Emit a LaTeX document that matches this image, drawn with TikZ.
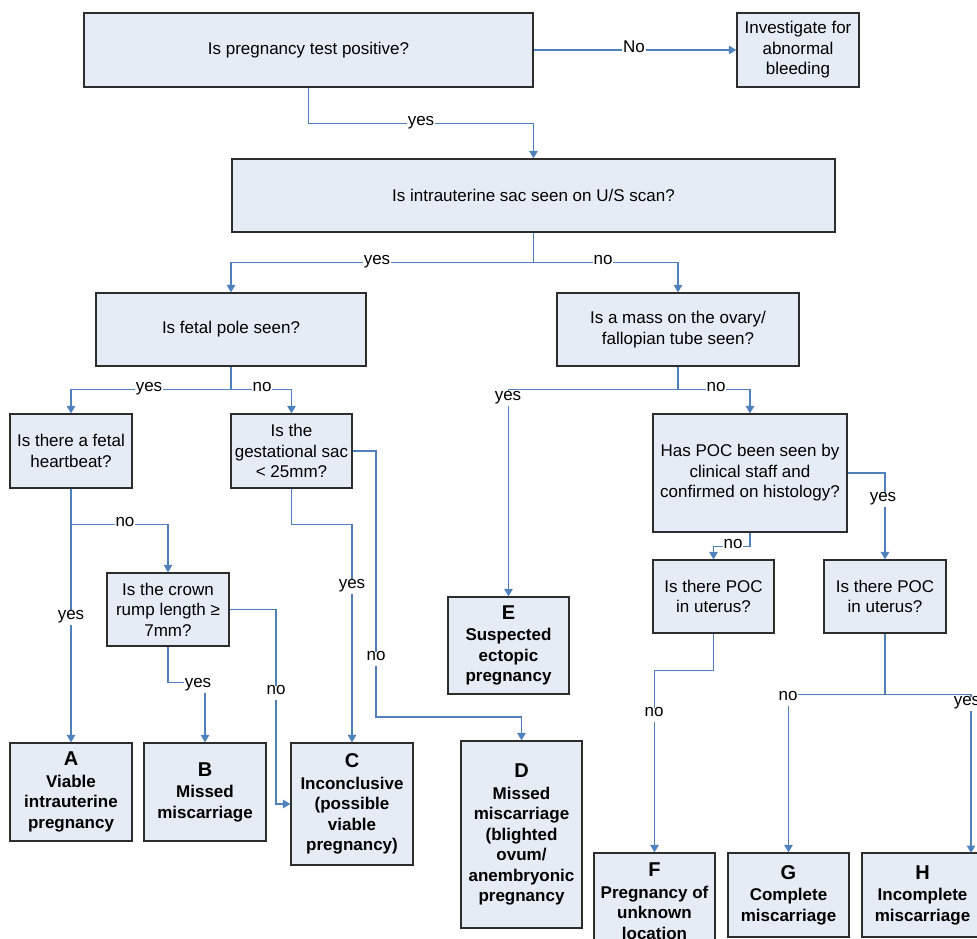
\documentclass[tikz,border=0pt]{standalone}
\usepackage{fontspec}
\setmainfont{Liberation Sans}
\usetikzlibrary{arrows.meta}
\definecolor{boxfill}{RGB}{230,236,246}
\definecolor{linkblue}{RGB}{79,129,189}
\definecolor{boxline}{RGB}{45,45,45}
\newcommand{\bodysize}{\fontsize{17}{20.5}\selectfont}
\newcommand{\lettersize}{\fontsize{20}{22}\selectfont}
\begin{document}
\begin{tikzpicture}[x=1pt,y=-1pt,
  qbox/.style={draw=boxline, line width=1.3pt, fill=boxfill, inner sep=0pt, align=center, font=\bodysize},
  rbox/.style={qbox, font=\bodysize\bfseries},
  conn/.style={draw=linkblue, line width=1.3pt, -{Triangle[width=8.5pt,length=7.5pt]}},
  lbl/.style={fill=white, inner xsep=1pt, inner ysep=1pt, font=\bodysize, text height=1ex, text depth=0pt},
  vlbl/.style={fill=white, inner xsep=1pt, inner ysep=3pt, font=\bodysize, text height=1ex, text depth=.25em}]
\clip (0,0) rectangle (977,939);
\fill[white] (0,0) rectangle (977,939);

% question boxes
\node[qbox, minimum width=449pt, minimum height=74pt] (q1) at (308.5,50) {Is pregnancy test positive?};
\node[qbox, minimum width=122pt, minimum height=74pt] (inv) at (798,50) {Investigate for\\abnormal\\bleeding};
\node[qbox, minimum width=603pt, minimum height=73pt] (q2) at (533.5,195.5) {Is intrauterine sac seen on U/S scan?};
\node[qbox, minimum width=270pt, minimum height=73pt] (q3) at (231,329.5) {Is fetal pole seen?};
\node[qbox, minimum width=242pt, minimum height=73pt] (q4) at (678,329.5) {Is a mass on the ovary/\\fallopian tube seen?};
\node[qbox, minimum width=122pt, minimum height=74pt] (q5) at (71,451) {Is there a fetal\\heartbeat?};
\node[qbox, minimum width=121pt, minimum height=74pt] (q6) at (291.5,451) {Is the\\gestational sac\\< 25mm?};
\node[qbox, minimum width=122pt, minimum height=73pt] (q7) at (168,609.5) {Is the crown\\rump length ≥\\7mm?};
\node[qbox, minimum width=194pt, minimum height=118pt] (q8) at (750,473) {Has POC been seen by\\clinical staff and\\confirmed on histology?};
\node[qbox, minimum width=121pt, minimum height=73pt] (q9) at (713.5,596.5) {Is there POC\\in uterus?};
\node[qbox, minimum width=122pt, minimum height=73pt] (q10) at (885,596.5) {Is there POC\\in uterus?};

% result boxes
\node[rbox, minimum width=122pt, minimum height=98pt] (A) at (71,792) {{\lettersize A}\\[1pt]Viable\\intrauterine\\pregnancy};
\node[rbox, minimum width=122pt, minimum height=98pt] (B) at (205,792) {{\lettersize B}\\[1pt]Missed\\miscarriage};
\node[rbox, minimum width=122pt, minimum height=122pt] (C) at (352,804) {{\lettersize C}\\[1pt]Inconclusive\\(possible\\viable\\pregnancy)};
\node[rbox, minimum width=121pt, minimum height=97pt] (E) at (508.5,645.5) {{\lettersize E}\\[1pt]Suspected\\ectopic\\pregnancy};
\node[rbox, minimum width=121pt, minimum height=187pt] (D) at (521.5,834.5) {{\lettersize D}\\[1pt]Missed\\miscarriage\\(blighted\\ovum/\\anembryonic\\pregnancy};
\node[rbox, minimum width=121pt, minimum height=96pt] (F) at (654.5,901) {{\lettersize F}\\[1pt]Pregnancy of\\unknown\\location};
\node[rbox, minimum width=121pt, minimum height=84pt] (G) at (788.5,895) {{\lettersize G}\\[1pt]Complete\\miscarriage};
\node[rbox, minimum width=121pt, minimum height=84pt] (H) at (922.5,895) {{\lettersize H}\\[1pt]Incomplete\\miscarriage};

% helper coordinates
\coordinate (g1) at (376,717);
\coordinate (c1) at (276,804);
\coordinate (hN) at (971,853);

% connectors
\draw[conn] (q1.east) -- (inv.west);
\draw[conn] (q1.south) -- ++(0,36) -| (q2.north);
\draw[conn] (q2.south) -- ++(0,30) -| (q3.north);
\draw[conn] (q2.south) -- ++(0,30) -| (q4.north);
\draw[conn] (q3.south) -- ++(0,23) -| (q5.north);
\draw[conn] (q3.south) -- ++(0,23) -| (q6.north);
\draw[conn] (q4.south) -- ++(0,23) -| (E.north);
\draw[conn] (q4.south) -- ++(0,23) -| (q8.north);
\draw[conn] (q5.south) -- (A.north);
\draw[conn] (q5.south) ++(0,36) -| (q7.north);
\draw[conn] (q6.east) -| (g1) -| (D.north);
\draw[conn] (q6.south) -- ++(0,36) -| (C.north);
\draw[conn] (q7.east) -| (c1) -- (C.west);
\draw[conn] (q7.south) -- ++(0,36) -| (B.north);
\draw[conn] (q8.east) -| (q10.north);
\draw[conn] (q8.south) -- ++(0,14) -| (q9.north);
\draw[conn] (q9.south) -- ++(0,37) -| (F.north);
\draw[conn] (q10.south) -- ++(0,61) -| (G.north);
\draw[conn] (q10.south) -- ++(0,61) -| (hN);

% labels
\node[lbl] (l1) at (634,50) {No};
\node[lbl] (l2) at (421,123) {yes};
\node[lbl] (l3) at (377,262) {yes};
\node[lbl] (l4) at (603,262) {no};
\node[lbl] (l5) at (149,389) {yes};
\node[lbl] (l6) at (262,389) {no};
\node[vlbl] (l7) at (508,399) {yes};
\node[lbl] (l8) at (716,389) {no};
\node[lbl] (l9) at (125,524) {no};
\node[vlbl] (l10) at (71,618) {yes};
\node[vlbl] (l11) at (352,587) {yes};
\node[vlbl] (l12) at (376,659) {no};
\node[vlbl] (l13) at (276,693) {no};
\node[vlbl] (l14) at (198,686) {yes};
\node[vlbl] (l15) at (883,500) {yes};
\node[lbl] (l16) at (733,546) {no};
\node[vlbl] (l17) at (654,715) {no};
\node[vlbl] (l18) at (788,699) {no};
\node[vlbl] (l19) at (967,704) {yes};
\end{tikzpicture}
\end{document}
